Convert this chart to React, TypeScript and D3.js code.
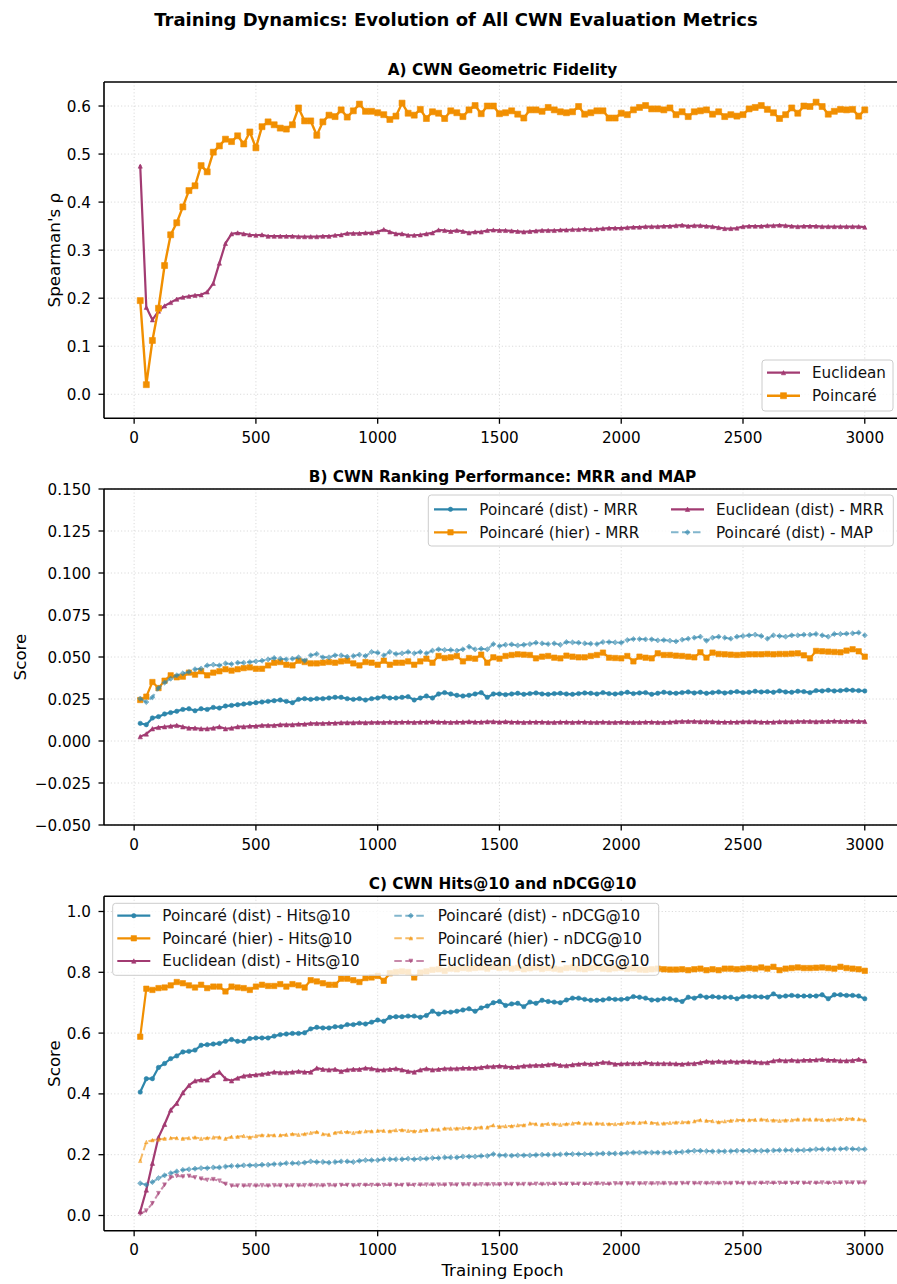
import React from 'react';
import * as d3 from 'd3';

// ---------- DATA ----------
const EPOCHS: number[] = d3.range(25, 3001, 25);
const X_TICKS = [0, 500, 1000, 1500, 2000, 2500, 3000];
const A_TICKS = [0, 0.1, 0.2, 0.3, 0.4, 0.5, 0.6];
const B_TICKS = [-0.05, -0.025, 0, 0.025, 0.05, 0.075, 0.1, 0.125, 0.15];
const C_TICKS = [0, 0.2, 0.4, 0.6, 0.8, 1.0];

const A_POINCARE = [
  0.195, 0.020, 0.112, 0.179, 0.268, 0.332, 0.357, 0.390, 0.424, 0.434,
  0.476, 0.463, 0.504, 0.517, 0.531, 0.526, 0.538, 0.521, 0.546, 0.513,
  0.557, 0.567, 0.561, 0.554, 0.552, 0.561, 0.596, 0.569, 0.569, 0.539,
  0.567, 0.581, 0.578, 0.592, 0.577, 0.590, 0.604, 0.589, 0.589, 0.586,
  0.582, 0.572, 0.579, 0.606, 0.585, 0.581, 0.593, 0.574, 0.588, 0.585,
  0.574, 0.590, 0.586, 0.578, 0.592, 0.601, 0.584, 0.600, 0.600, 0.584,
  0.586, 0.590, 0.583, 0.575, 0.592, 0.592, 0.589, 0.597, 0.592, 0.588,
  0.586, 0.588, 0.599, 0.583, 0.586, 0.590, 0.590, 0.575, 0.575, 0.585,
  0.582, 0.592, 0.597, 0.601, 0.594, 0.594, 0.592, 0.596, 0.582, 0.588,
  0.578, 0.588, 0.590, 0.592, 0.583, 0.588, 0.578, 0.582, 0.579, 0.582,
  0.594, 0.597, 0.601, 0.593, 0.586, 0.574, 0.582, 0.596, 0.585, 0.600,
  0.599, 0.608, 0.599, 0.583, 0.589, 0.593, 0.592, 0.593, 0.579, 0.592,
];
const A_EUCLID = [
  0.475, 0.181, 0.155, 0.173, 0.184, 0.191, 0.198, 0.202, 0.204, 0.206,
  0.207, 0.213, 0.231, 0.273, 0.314, 0.334, 0.336, 0.334, 0.332, 0.331,
  0.332, 0.329, 0.329, 0.329, 0.329, 0.329, 0.328, 0.328, 0.328, 0.328,
  0.329, 0.329, 0.331, 0.332, 0.335, 0.335, 0.335, 0.336, 0.336, 0.338,
  0.343, 0.338, 0.334, 0.334, 0.331, 0.331, 0.332, 0.334, 0.336, 0.342,
  0.341, 0.339, 0.341, 0.339, 0.336, 0.338, 0.338, 0.341, 0.342, 0.341,
  0.341, 0.340, 0.339, 0.338, 0.339, 0.340, 0.341, 0.341, 0.341, 0.342,
  0.342, 0.343, 0.343, 0.344, 0.343, 0.344, 0.345, 0.346, 0.346, 0.346,
  0.347, 0.348, 0.348, 0.349, 0.349, 0.349, 0.350, 0.350, 0.351, 0.352,
  0.350, 0.351, 0.351, 0.350, 0.349, 0.347, 0.345, 0.345, 0.346, 0.349,
  0.350, 0.350, 0.350, 0.351, 0.351, 0.352, 0.351, 0.350, 0.349, 0.350,
  0.350, 0.350, 0.349, 0.349, 0.349, 0.349, 0.349, 0.349, 0.349, 0.348,
];

const B_PD_MRR = [
  0.0105, 0.0097, 0.0137, 0.0145, 0.0161, 0.0169, 0.0177, 0.0188, 0.0192, 0.0180,
  0.0192, 0.0188, 0.0200, 0.0196, 0.0208, 0.0212, 0.0216, 0.0220, 0.0224, 0.0228,
  0.0232, 0.0236, 0.0240, 0.0244, 0.0236, 0.0228, 0.0248, 0.0252, 0.0248, 0.0252,
  0.0252, 0.0256, 0.0260, 0.0260, 0.0252, 0.0248, 0.0252, 0.0244, 0.0252, 0.0256,
  0.0264, 0.0256, 0.0256, 0.0260, 0.0264, 0.0244, 0.0256, 0.0268, 0.0256, 0.0280,
  0.0288, 0.0280, 0.0272, 0.0268, 0.0272, 0.0280, 0.0288, 0.0260, 0.0280, 0.0280,
  0.0276, 0.0280, 0.0284, 0.0278, 0.0282, 0.0286, 0.0280, 0.0278, 0.0282, 0.0284,
  0.0280, 0.0278, 0.0282, 0.0286, 0.0284, 0.0280, 0.0288, 0.0282, 0.0280, 0.0284,
  0.0290, 0.0282, 0.0286, 0.0288, 0.0278, 0.0284, 0.0290, 0.0286, 0.0284, 0.0288,
  0.0292, 0.0286, 0.0290, 0.0284, 0.0288, 0.0292, 0.0286, 0.0290, 0.0294, 0.0288,
  0.0290, 0.0296, 0.0292, 0.0294, 0.0290, 0.0298, 0.0292, 0.0290, 0.0296, 0.0294,
  0.0288, 0.0300, 0.0298, 0.0302, 0.0298, 0.0300, 0.0304, 0.0302, 0.0300, 0.0298,
];
const B_PH_MRR = [
  0.0244, 0.0264, 0.0351, 0.0315, 0.0359, 0.0391, 0.0379, 0.0383, 0.0407, 0.0395,
  0.0415, 0.0391, 0.0407, 0.0415, 0.0427, 0.0419, 0.0427, 0.0434, 0.0438, 0.0430,
  0.0430, 0.0450, 0.0466, 0.0470, 0.0454, 0.0450, 0.0478, 0.0470, 0.0462, 0.0462,
  0.0466, 0.0470, 0.0466, 0.0474, 0.0478, 0.0462, 0.0450, 0.0470, 0.0466, 0.0454,
  0.0478, 0.0454, 0.0466, 0.0466, 0.0474, 0.0454, 0.0474, 0.0490, 0.0466, 0.0506,
  0.0494, 0.0498, 0.0506, 0.0474, 0.0494, 0.0490, 0.0514, 0.0466, 0.0498, 0.0490,
  0.0506, 0.0512, 0.0516, 0.0514, 0.0512, 0.0492, 0.0502, 0.0506, 0.0496, 0.0492,
  0.0508, 0.0502, 0.0498, 0.0498, 0.0506, 0.0512, 0.0526, 0.0496, 0.0494, 0.0492,
  0.0506, 0.0474, 0.0502, 0.0496, 0.0492, 0.0522, 0.0512, 0.0512, 0.0508, 0.0506,
  0.0502, 0.0498, 0.0528, 0.0496, 0.0526, 0.0518, 0.0516, 0.0514, 0.0512, 0.0514,
  0.0516, 0.0516, 0.0516, 0.0518, 0.0516, 0.0518, 0.0518, 0.0520, 0.0522, 0.0510,
  0.0492, 0.0536, 0.0534, 0.0532, 0.0530, 0.0528, 0.0538, 0.0546, 0.0534, 0.0502,
];
const B_EU_MRR = [
  0.0026, 0.0042, 0.0073, 0.0081, 0.0085, 0.0089, 0.0093, 0.0085, 0.0077, 0.0077,
  0.0073, 0.0073, 0.0077, 0.0085, 0.0073, 0.0077, 0.0085, 0.0085, 0.0089, 0.0089,
  0.0093, 0.0093, 0.0093, 0.0097, 0.0097, 0.0097, 0.0101, 0.0101, 0.0105, 0.0105,
  0.0105, 0.0107, 0.0107, 0.0109, 0.0109, 0.0109, 0.0111, 0.0109, 0.0111, 0.0111,
  0.0111, 0.0113, 0.0111, 0.0113, 0.0113, 0.0111, 0.0113, 0.0113, 0.0115, 0.0113,
  0.0113, 0.0111, 0.0113, 0.0113, 0.0115, 0.0113, 0.0113, 0.0115, 0.0115, 0.0113,
  0.0115, 0.0113, 0.0113, 0.0111, 0.0113, 0.0113, 0.0113, 0.0111, 0.0111, 0.0113,
  0.0113, 0.0111, 0.0113, 0.0113, 0.0111, 0.0111, 0.0113, 0.0111, 0.0111, 0.0113,
  0.0111, 0.0111, 0.0111, 0.0113, 0.0113, 0.0111, 0.0111, 0.0113, 0.0115, 0.0117,
  0.0117, 0.0117, 0.0115, 0.0115, 0.0115, 0.0113, 0.0113, 0.0113, 0.0113, 0.0115,
  0.0115, 0.0115, 0.0113, 0.0113, 0.0113, 0.0115, 0.0115, 0.0115, 0.0117, 0.0117,
  0.0117, 0.0115, 0.0117, 0.0117, 0.0119, 0.0117, 0.0117, 0.0119, 0.0117, 0.0117,
];
const B_PD_MAP = [
  0.0252, 0.0232, 0.0260, 0.0315, 0.0347, 0.0371, 0.0391, 0.0403, 0.0411, 0.0427,
  0.0431, 0.0450, 0.0454, 0.0450, 0.0462, 0.0458, 0.0466, 0.0466, 0.0470, 0.0474,
  0.0478, 0.0486, 0.0494, 0.0490, 0.0486, 0.0490, 0.0498, 0.0478, 0.0510, 0.0518,
  0.0498, 0.0498, 0.0510, 0.0510, 0.0502, 0.0506, 0.0514, 0.0506, 0.0530, 0.0526,
  0.0510, 0.0530, 0.0518, 0.0522, 0.0530, 0.0522, 0.0530, 0.0522, 0.0538, 0.0546,
  0.0542, 0.0542, 0.0538, 0.0546, 0.0561, 0.0546, 0.0549, 0.0546, 0.0577, 0.0565,
  0.0573, 0.0575, 0.0569, 0.0573, 0.0577, 0.0585, 0.0581, 0.0577, 0.0581, 0.0573,
  0.0589, 0.0587, 0.0585, 0.0581, 0.0579, 0.0577, 0.0589, 0.0589, 0.0587, 0.0585,
  0.0601, 0.0607, 0.0607, 0.0605, 0.0605, 0.0599, 0.0601, 0.0597, 0.0593, 0.0603,
  0.0609, 0.0615, 0.0621, 0.0597, 0.0615, 0.0621, 0.0615, 0.0609, 0.0621, 0.0625,
  0.0629, 0.0633, 0.0625, 0.0609, 0.0629, 0.0625, 0.0621, 0.0629, 0.0629, 0.0633,
  0.0633, 0.0637, 0.0629, 0.0621, 0.0637, 0.0637, 0.0639, 0.0641, 0.0645, 0.0629,
];

const C_PD_HITS = [
  0.406, 0.450, 0.450, 0.487, 0.500, 0.516, 0.525, 0.538, 0.540, 0.544,
  0.560, 0.562, 0.564, 0.566, 0.573, 0.579, 0.573, 0.573, 0.582, 0.584,
  0.584, 0.584, 0.590, 0.595, 0.597, 0.599, 0.599, 0.601, 0.614, 0.619,
  0.617, 0.617, 0.621, 0.621, 0.628, 0.628, 0.632, 0.630, 0.636, 0.643,
  0.639, 0.652, 0.654, 0.654, 0.656, 0.656, 0.652, 0.658, 0.672, 0.663,
  0.669, 0.669, 0.672, 0.676, 0.680, 0.672, 0.683, 0.689, 0.700, 0.704,
  0.691, 0.696, 0.698, 0.687, 0.702, 0.698, 0.708, 0.704, 0.702, 0.700,
  0.709, 0.715, 0.715, 0.711, 0.708, 0.708, 0.709, 0.713, 0.711, 0.711,
  0.713, 0.720, 0.718, 0.715, 0.709, 0.709, 0.713, 0.713, 0.709, 0.704,
  0.718, 0.715, 0.722, 0.718, 0.720, 0.718, 0.718, 0.718, 0.713, 0.720,
  0.720, 0.720, 0.719, 0.718, 0.729, 0.720, 0.722, 0.724, 0.722, 0.722,
  0.722, 0.722, 0.726, 0.713, 0.726, 0.726, 0.724, 0.724, 0.722, 0.713,
];
const C_PH_HITS = [
  0.588, 0.746, 0.742, 0.748, 0.750, 0.757, 0.768, 0.764, 0.757, 0.750,
  0.759, 0.748, 0.753, 0.753, 0.737, 0.753, 0.750, 0.748, 0.742, 0.753,
  0.759, 0.755, 0.755, 0.761, 0.753, 0.761, 0.757, 0.750, 0.774, 0.770,
  0.764, 0.759, 0.759, 0.779, 0.779, 0.774, 0.768, 0.781, 0.783, 0.788,
  0.772, 0.797, 0.801, 0.803, 0.801, 0.783, 0.799, 0.803, 0.808, 0.810,
  0.805, 0.812, 0.810, 0.814, 0.812, 0.814, 0.816, 0.812, 0.818, 0.814,
  0.816, 0.812, 0.815, 0.810, 0.813, 0.816, 0.811, 0.814, 0.812, 0.809,
  0.814, 0.816, 0.812, 0.810, 0.814, 0.817, 0.812, 0.810, 0.813, 0.815,
  0.811, 0.813, 0.809, 0.808, 0.810, 0.812, 0.810, 0.809, 0.809, 0.810,
  0.807, 0.810, 0.812, 0.807, 0.810, 0.807, 0.812, 0.812, 0.810, 0.812,
  0.814, 0.812, 0.816, 0.812, 0.818, 0.807, 0.812, 0.814, 0.816, 0.814,
  0.814, 0.815, 0.816, 0.814, 0.812, 0.818, 0.814, 0.812, 0.810, 0.805,
];
const C_EU_HITS = [
  0.013, 0.084, 0.172, 0.257, 0.300, 0.347, 0.369, 0.404, 0.428, 0.443,
  0.446, 0.446, 0.461, 0.472, 0.450, 0.443, 0.452, 0.459, 0.461, 0.463,
  0.465, 0.468, 0.472, 0.470, 0.470, 0.472, 0.474, 0.472, 0.472, 0.485,
  0.481, 0.479, 0.481, 0.474, 0.479, 0.481, 0.481, 0.485, 0.483, 0.479,
  0.479, 0.481, 0.483, 0.479, 0.474, 0.472, 0.479, 0.483, 0.479, 0.481,
  0.483, 0.483, 0.483, 0.485, 0.485, 0.485, 0.487, 0.490, 0.490, 0.492,
  0.490, 0.488, 0.489, 0.492, 0.493, 0.494, 0.494, 0.496, 0.498, 0.494,
  0.493, 0.496, 0.498, 0.500, 0.498, 0.500, 0.504, 0.503, 0.498, 0.499,
  0.500, 0.500, 0.500, 0.503, 0.500, 0.500, 0.500, 0.500, 0.499, 0.498,
  0.500, 0.500, 0.503, 0.507, 0.505, 0.507, 0.505, 0.507, 0.505, 0.507,
  0.506, 0.505, 0.503, 0.503, 0.509, 0.511, 0.509, 0.511, 0.509, 0.511,
  0.511, 0.512, 0.514, 0.511, 0.511, 0.509, 0.509, 0.510, 0.514, 0.509,
];
const C_PD_NDCG = [
  0.106, 0.101, 0.110, 0.123, 0.132, 0.139, 0.145, 0.150, 0.152, 0.154,
  0.156, 0.156, 0.158, 0.158, 0.161, 0.163, 0.163, 0.165, 0.165, 0.165,
  0.167, 0.167, 0.169, 0.169, 0.172, 0.172, 0.172, 0.174, 0.178, 0.176,
  0.176, 0.174, 0.176, 0.178, 0.178, 0.176, 0.180, 0.182, 0.182, 0.182,
  0.185, 0.185, 0.185, 0.185, 0.187, 0.185, 0.187, 0.187, 0.189, 0.189,
  0.191, 0.191, 0.191, 0.194, 0.194, 0.194, 0.196, 0.196, 0.202, 0.198,
  0.198, 0.197, 0.198, 0.198, 0.198, 0.199, 0.200, 0.200, 0.200, 0.201,
  0.202, 0.202, 0.202, 0.202, 0.202, 0.203, 0.204, 0.204, 0.204, 0.204,
  0.206, 0.207, 0.207, 0.207, 0.207, 0.207, 0.207, 0.207, 0.208, 0.209,
  0.211, 0.213, 0.213, 0.212, 0.211, 0.211, 0.211, 0.212, 0.213, 0.213,
  0.213, 0.213, 0.213, 0.213, 0.214, 0.215, 0.215, 0.215, 0.215, 0.215,
  0.216, 0.218, 0.218, 0.218, 0.218, 0.219, 0.220, 0.219, 0.218, 0.218,
];
const C_PH_NDCG = [
  0.180, 0.242, 0.248, 0.250, 0.253, 0.255, 0.255, 0.253, 0.255, 0.257,
  0.253, 0.255, 0.257, 0.257, 0.253, 0.259, 0.259, 0.262, 0.257, 0.262,
  0.264, 0.264, 0.264, 0.264, 0.266, 0.268, 0.266, 0.268, 0.272, 0.275,
  0.268, 0.266, 0.272, 0.275, 0.275, 0.272, 0.275, 0.277, 0.277, 0.279,
  0.279, 0.277, 0.281, 0.281, 0.279, 0.277, 0.279, 0.281, 0.283, 0.283,
  0.286, 0.286, 0.286, 0.288, 0.288, 0.288, 0.290, 0.290, 0.297, 0.292,
  0.294, 0.294, 0.297, 0.297, 0.303, 0.301, 0.299, 0.302, 0.301, 0.299,
  0.301, 0.303, 0.305, 0.303, 0.303, 0.303, 0.302, 0.301, 0.301, 0.302,
  0.305, 0.305, 0.305, 0.307, 0.305, 0.303, 0.303, 0.305, 0.306, 0.307,
  0.307, 0.310, 0.314, 0.312, 0.311, 0.307, 0.310, 0.312, 0.314, 0.314,
  0.314, 0.315, 0.316, 0.314, 0.313, 0.312, 0.313, 0.314, 0.316, 0.316,
  0.316, 0.316, 0.315, 0.314, 0.316, 0.317, 0.318, 0.318, 0.317, 0.314,
];
const C_EU_NDCG = [
  0.005, 0.016, 0.040, 0.073, 0.101, 0.125, 0.130, 0.128, 0.130, 0.125,
  0.121, 0.117, 0.119, 0.114, 0.104, 0.098, 0.098, 0.098, 0.099, 0.098,
  0.099, 0.098, 0.099, 0.099, 0.098, 0.099, 0.099, 0.099, 0.100, 0.099,
  0.099, 0.100, 0.099, 0.100, 0.100, 0.099, 0.100, 0.100, 0.100, 0.100,
  0.100, 0.101, 0.100, 0.100, 0.101, 0.100, 0.101, 0.101, 0.101, 0.101,
  0.101, 0.102, 0.101, 0.102, 0.102, 0.101, 0.102, 0.102, 0.102, 0.102,
  0.103, 0.103, 0.103, 0.103, 0.103, 0.104, 0.103, 0.103, 0.104, 0.104,
  0.104, 0.104, 0.104, 0.104, 0.104, 0.105, 0.104, 0.104, 0.105, 0.105,
  0.105, 0.105, 0.105, 0.105, 0.105, 0.105, 0.106, 0.105, 0.105, 0.106,
  0.106, 0.106, 0.106, 0.106, 0.106, 0.106, 0.106, 0.106, 0.107, 0.106,
  0.106, 0.106, 0.107, 0.107, 0.107, 0.107, 0.107, 0.107, 0.107, 0.107,
  0.107, 0.107, 0.108, 0.107, 0.107, 0.108, 0.108, 0.108, 0.108, 0.108,
];

// ---------- STYLE ----------
const BLUE = '#2E86AB';
const PURPLE = '#A23B72';
const ORANGE = '#F18F01';
const FONT = '"DejaVu Sans", sans-serif';
const W = 897;
const H = 1284;
const AX_LEFT = 104;
const AX_RIGHT = 901;

type Marker = 'o' | 's' | '^' | 'v' | 'D';
interface Series {
  label: string;
  values: number[];
  color: string;
  marker: Marker;
  ms: number;
  lw: number;
  dashed?: boolean;
  alpha?: number;
}

function markerPath(m: Marker, s: number): string {
  const h = s / 2;
  switch (m) {
    case 'o':
      return `M${h},0A${h},${h} 0 1,1 ${-h},0A${h},${h} 0 1,1 ${h},0Z`;
    case 's':
      return `M${-h},${-h}H${h}V${h}H${-h}Z`;
    case '^':
      return `M0,${-h}L${h},${h}L${-h},${h}Z`;
    case 'v':
      return `M0,${h}L${h},${-h}L${-h},${-h}Z`;
    case 'D': {
      const d = h * 1.15;
      return `M0,${-d}L${d},0L0,${d}L${-d},0Z`;
    }
  }
}

interface LegendCfg {
  x: number; y: number; w: number; h: number;
  rows: number[]; handleX: number[]; textX: number[]; nrows: number;
}

interface PanelCfg {
  top: number; bottom: number; domain: [number, number]; ticks: number[];
  fmt: (v: number) => string; title: string; ylabel: string; ylabelX: number;
  series: Series[]; legend: LegendCfg; xlabel?: string;
}

const xScale = d3.scaleLinear().domain([-123.75, 3148.75]).range([AX_LEFT, AX_RIGHT]);
const HANDLE_LEN = 33;

function SeriesMarks({ s, y }: { s: Series; y: d3.ScaleLinear<number, number> }) {
  const line = d3.line<number>().x((_, i) => xScale(EPOCHS[i])).y((v) => y(v));
  const op = s.alpha ?? 1;
  return (
    <g>
      <path d={line(s.values) || ''} fill="none" stroke={s.color} strokeWidth={s.lw}
        strokeOpacity={op} strokeDasharray={s.dashed ? '7.5,3.5' : undefined}
        strokeLinejoin="round" strokeLinecap={s.dashed ? 'butt' : 'square'} />
      {s.values.map((v, i) => (
        <path key={i} transform={`translate(${xScale(EPOCHS[i])},${y(v)})`}
          d={markerPath(s.marker, s.ms)} fill={s.color} fillOpacity={op}
          stroke={s.color} strokeOpacity={op} strokeWidth={0.6} />
      ))}
    </g>
  );
}

function Legend({ cfg, series }: { cfg: LegendCfg; series: Series[] }) {
  return (
    <g>
      <rect x={cfg.x} y={cfg.y} width={cfg.w} height={cfg.h} rx={3} ry={3}
        fill="white" fillOpacity={0.8} stroke="#cccccc" strokeWidth={1} />
      {series.map((s, i) => {
        const col = Math.floor(i / cfg.nrows);
        const row = i % cfg.nrows;
        const cy = cfg.rows[row];
        const hx = cfg.handleX[col];
        const op = s.alpha ?? 1;
        return (
          <g key={i}>
            <line x1={hx} x2={hx + HANDLE_LEN} y1={cy} y2={cy} stroke={s.color}
              strokeOpacity={op} strokeWidth={s.lw}
              strokeDasharray={s.dashed ? '7.5,3.5' : undefined} />
            <path transform={`translate(${hx + HANDLE_LEN / 2},${cy})`}
              d={markerPath(s.marker, s.ms)} fill={s.color} fillOpacity={op}
              stroke={s.color} strokeOpacity={op} strokeWidth={0.6} />
            <text x={cfg.textX[col]} y={cy + 5.4} fontSize={15.2} fill="#111">{s.label}</text>
          </g>
        );
      })}
    </g>
  );
}

function Panel({ cfg }: { cfg: PanelCfg }) {
  const y = d3.scaleLinear().domain(cfg.domain).range([cfg.bottom, cfg.top]);
  const midX = (AX_LEFT + AX_RIGHT) / 2;
  const midY = (cfg.top + cfg.bottom) / 2;
  return (
    <g>
      {/* grid */}
      <g stroke="#b0b0b0" strokeOpacity={0.45} strokeWidth={1} strokeDasharray="1.2,2.2">
        {X_TICKS.map((t) => (
          <line key={'gx' + t} x1={xScale(t)} x2={xScale(t)} y1={cfg.top} y2={cfg.bottom} />
        ))}
        {cfg.ticks.map((t) => (
          <line key={'gy' + t} x1={AX_LEFT} x2={AX_RIGHT} y1={y(t)} y2={y(t)} />
        ))}
      </g>
      {cfg.series.map((s, i) => (
        <SeriesMarks key={i} s={s} y={y} />
      ))}
      {/* spines */}
      <g stroke="#000" strokeWidth={1.6} fill="none">
        <line x1={AX_LEFT} x2={AX_LEFT} y1={cfg.top} y2={cfg.bottom} />
        <line x1={AX_LEFT} x2={AX_RIGHT} y1={cfg.top} y2={cfg.top} />
        <line x1={AX_LEFT} x2={AX_RIGHT} y1={cfg.bottom} y2={cfg.bottom} />
        <line x1={AX_RIGHT} x2={AX_RIGHT} y1={cfg.top} y2={cfg.bottom} />
      </g>
      {/* ticks */}
      <g stroke="#000" strokeWidth={1.3}>
        {X_TICKS.map((t) => (
          <line key={'tx' + t} x1={xScale(t)} x2={xScale(t)} y1={cfg.bottom} y2={cfg.bottom + 5.5} />
        ))}
        {cfg.ticks.map((t) => (
          <line key={'ty' + t} x1={AX_LEFT - 5.5} x2={AX_LEFT} y1={y(t)} y2={y(t)} />
        ))}
      </g>
      <g fontSize={15.2} fill="#000">
        {X_TICKS.map((t) => (
          <text key={'lx' + t} x={xScale(t)} y={cfg.bottom + 24.6} textAnchor="middle">{String(t)}</text>
        ))}
        {cfg.ticks.map((t) => (
          <text key={'ly' + t} x={91} y={y(t) + 5.5} textAnchor="end">{cfg.fmt(t)}</text>
        ))}
      </g>
      <text x={midX} y={cfg.top - 7.5} textAnchor="middle" fontSize={15.3} fontWeight="bold">{cfg.title}</text>
      <text transform={`translate(${cfg.ylabelX},${midY}) rotate(-90)`} textAnchor="middle" fontSize={16.7}>{cfg.ylabel}</text>
      {cfg.xlabel && (
        <text x={midX} y={cfg.bottom + 45.5} textAnchor="middle" fontSize={16.7}>{cfg.xlabel}</text>
      )}
      <Legend cfg={cfg.legend} series={cfg.series} />
    </g>
  );
}

const fmt1 = d3.format('.1f');
const fmt3 = d3.format('.3f');

const PANELS: PanelCfg[] = [
  {
    top: 82, bottom: 418.3, domain: [-0.05, 0.65], ticks: A_TICKS, fmt: fmt1,
    title: 'A) CWN Geometric Fidelity', ylabel: "Spearman's ρ", ylabelX: 60,
    series: [
      { label: 'Euclidean', values: A_EUCLID, color: PURPLE, marker: '^', ms: 4.2, lw: 2.2 },
      { label: 'Poincaré', values: A_POINCARE, color: ORANGE, marker: 's', ms: 6, lw: 2.4 },
    ],
    legend: { x: 762, y: 360, w: 131, h: 51, rows: [372.7, 395.7], handleX: [767], textX: [812], nrows: 2 },
  },
  {
    top: 489, bottom: 825, domain: [-0.05, 0.15], ticks: B_TICKS, fmt: fmt3,
    title: 'B) CWN Ranking Performance: MRR and MAP', ylabel: 'Score', ylabelX: 26,
    series: [
      { label: 'Poincaré (dist) - MRR', values: B_PD_MRR, color: BLUE, marker: 'o', ms: 4.4, lw: 2.2 },
      { label: 'Poincaré (hier) - MRR', values: B_PH_MRR, color: ORANGE, marker: 's', ms: 5.4, lw: 2.2 },
      { label: 'Euclidean (dist) - MRR', values: B_EU_MRR, color: PURPLE, marker: '^', ms: 4.4, lw: 2.2 },
      { label: 'Poincaré (dist) - MAP', values: B_PD_MAP, color: BLUE, marker: 'D', ms: 4.6, lw: 2.0, dashed: true, alpha: 0.6 },
    ],
    legend: { x: 428.3, y: 495, w: 465, h: 51, rows: [509.3, 532.3], handleX: [434, 671], textX: [479.3, 716], nrows: 2 },
  },
  {
    top: 896.3, bottom: 1230.7, domain: [-0.05, 1.05], ticks: C_TICKS, fmt: fmt1,
    title: 'C) CWN Hits@10 and nDCG@10', ylabel: 'Score', ylabelX: 60, xlabel: 'Training Epoch',
    series: [
      { label: 'Poincaré (dist) - Hits@10', values: C_PD_HITS, color: BLUE, marker: 'o', ms: 4.4, lw: 2.2 },
      { label: 'Poincaré (hier) - Hits@10', values: C_PH_HITS, color: ORANGE, marker: 's', ms: 5.4, lw: 2.2 },
      { label: 'Euclidean (dist) - Hits@10', values: C_EU_HITS, color: PURPLE, marker: '^', ms: 4.4, lw: 2.2 },
      { label: 'Poincaré (dist) - nDCG@10', values: C_PD_NDCG, color: BLUE, marker: 'D', ms: 4.6, lw: 2.0, dashed: true, alpha: 0.6 },
      { label: 'Poincaré (hier) - nDCG@10', values: C_PH_NDCG, color: ORANGE, marker: '^', ms: 3.6, lw: 2.0, dashed: true, alpha: 0.6 },
      { label: 'Euclidean (dist) - nDCG@10', values: C_EU_NDCG, color: PURPLE, marker: 'v', ms: 4.0, lw: 2.0, dashed: true, alpha: 0.6 },
    ],
    legend: { x: 112.7, y: 903.3, w: 546, h: 72, rows: [915.7, 938.3, 961], handleX: [117.3, 394.3], textX: [162.3, 437.7], nrows: 3 },
  },
];

export default function App() {
  return (
    <svg width={W} height={H} viewBox={`0 0 ${W} ${H}`}
      style={{ position: 'absolute', left: 0, top: 0, background: 'white' }}
      fontFamily={FONT}>
      <rect x={0} y={0} width={W} height={H} fill="white" />
      <text x={456} y={25.5} textAnchor="middle" fontSize={18} fontWeight="bold">
        Training Dynamics: Evolution of All CWN Evaluation Metrics
      </text>
      {PANELS.map((p, i) => (
        <Panel key={i} cfg={p} />
      ))}
    </svg>
  );
}
